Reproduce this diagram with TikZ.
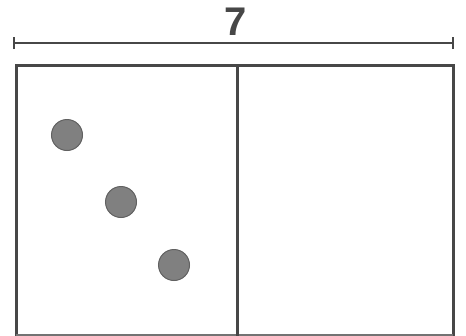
\documentclass[tikz,border=0pt]{standalone}
\usepackage{fontspec}
\setmainfont{Liberation Sans}
\begin{document}
\begin{tikzpicture}[x=1pt,y=-1pt,
  frame/.style={draw=black!72,line width=3pt},
  dimline/.style={draw=black!72,line width=2.2pt},
  dot/.style={circle,fill=black!50,draw=black!62,line width=1pt,minimum size=31pt,inner sep=0pt}]
\useasboundingbox (0,0) rectangle (466,335);
\fill[white] (0,0) rectangle (466,335);
\coordinate (dl) at (14,43);
\coordinate (dr) at (453,43);
\draw[dimline] (dl) -- (dr);
\draw[dimline] ([yshift=-6pt]dl) -- ([yshift=6pt]dl);
\draw[dimline] ([yshift=-6pt]dr) -- ([yshift=6pt]dr);
\node[text=black!72,font=\fontsize{40}{40}\selectfont\bfseries,inner sep=0pt] (lab) at (236,22) {7};
\draw[frame] (16,336) -- (16,65) -- (453,65) -- (453,336);
\draw[draw=black!55,line width=3pt] (16,335.8) -- (453,335.8);
\coordinate (mt) at (237,65);
\coordinate (mb) at (237,336);
\draw[frame] (mt) -- (mb);
\node[dot] (c1) at (67,135) {};
\node[dot] (c2) at (121,202) {};
\node[dot] (c3) at (174,265) {};
\end{tikzpicture}
\end{document}
